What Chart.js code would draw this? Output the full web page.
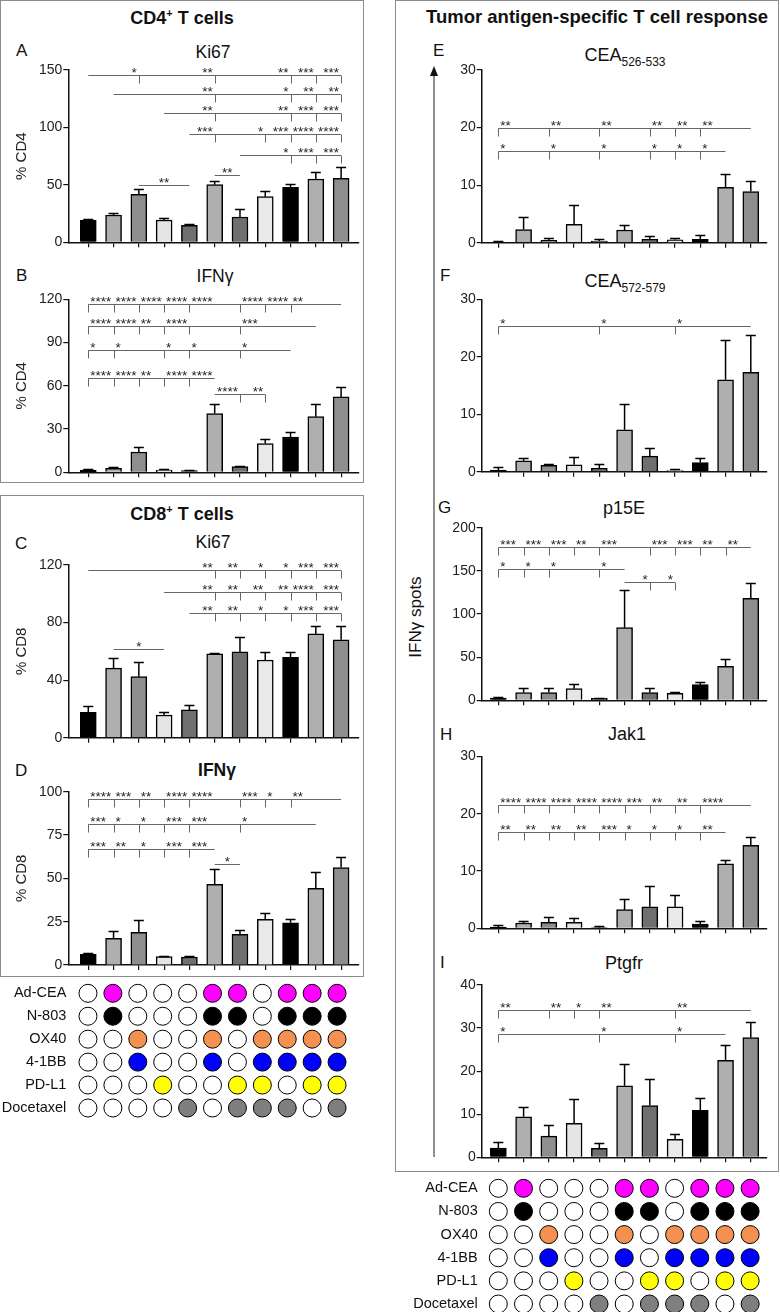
<!DOCTYPE html>
<html>
<head>
<meta charset="utf-8">
<style>
  html, body { margin: 0; padding: 0; background: #fff; }
  body { width: 780px; height: 1312px; position: relative; overflow: hidden;
         font-family: "Liberation Sans", Arial, sans-serif; color: #111; }
  .box { position: absolute; border: 1px solid #8c8c8c; box-sizing: border-box; }
  .t { position: absolute; transform: translate(-50%, -50%); white-space: nowrap; line-height: 1; }
  .l { position: absolute; transform: translate(0, -50%); white-space: nowrap; line-height: 1; font-size: 17px; }
  .b { font-weight: bold; }
  .sub { font-size: 12px; position: relative; top: 5px; }
  .sup { font-size: 11px; position: relative; top: -7px; }
  canvas { position: absolute; }
</style>
</head>
<body>
  <div class="box" style="left:0;top:0;width:364px;height:483px"></div>
  <div class="box" style="left:0;top:495px;width:364px;height:482px"></div>
  <div class="box" style="left:395px;top:0;width:384px;height:1172px"></div>

  <div class="t b" style="left:182px;top:18px;font-size:18px">CD4<span class="sup">+</span> T cells</div>
  <div class="l" style="left:16px;top:50px">A</div>
  <div class="t" style="left:213px;top:53px;font-size:17.5px">Ki67</div>
  <div class="l" style="left:16px;top:275px">B</div>
  <div class="t" style="left:215px;top:277px;font-size:17.5px">IFNγ</div>

  <div class="t b" style="left:182px;top:514px;font-size:18px">CD8<span class="sup">+</span> T cells</div>
  <div class="l" style="left:15px;top:543px">C</div>
  <div class="t" style="left:213px;top:543px;font-size:17.5px">Ki67</div>
  <div class="l" style="left:15px;top:770px">D</div>
  <div class="t b" style="left:217px;top:771px;font-size:17.5px">IFNγ</div>

  <div class="t b" style="left:597px;top:17px;font-size:18.5px">Tumor antigen-specific T cell response</div>
  <div class="l" style="left:433px;top:50px">E</div>
  <div class="t" style="left:625px;top:55px;font-size:18px">CEA<span class="sub">526-533</span></div>
  <div class="l" style="left:440px;top:275px">F</div>
  <div class="t" style="left:625px;top:281px;font-size:18px">CEA<span class="sub">572-579</span></div>
  <div class="l" style="left:438px;top:507px">G</div>
  <div class="t" style="left:624px;top:508px;font-size:18px">p15E</div>
  <div class="l" style="left:440px;top:734px">H</div>
  <div class="t" style="left:627px;top:734px;font-size:18px">Jak1</div>
  <div class="l" style="left:440px;top:962px">I</div>
  <div class="t" style="left:624px;top:963px;font-size:18px">Ptgfr</div>
  <div class="t" style="left:415px;top:617px;font-size:17px;transform:translate(-50%,-50%) rotate(-90deg)">IFNγ spots</div>
  <svg style="position:absolute;left:428px;top:64px" width="12" height="1096">
    <line x1="6" y1="8" x2="6" y2="1093" stroke="#444" stroke-width="1.2"/>
    <polygon points="6,2 2,12 10,12" fill="#111"/>
  </svg>

  <script src="https://cdn.jsdelivr.net/npm/chart.js@4.4.1/dist/chart.umd.min.js"></script>
  <script>
    // treatment groups (columns) as shown in the dot matrix
    const treatments = ['Ad-CEA', 'N-803', 'OX40', '4-1BB', 'PD-L1', 'Docetaxel'];
    const adCea     = [0, 1, 0, 0, 0, 1, 1, 0, 1, 1, 1];
    const n803      = [0, 1, 0, 0, 0, 1, 1, 0, 1, 1, 1];
    const ox40      = [0, 0, 1, 0, 0, 1, 0, 1, 1, 1, 1];
    const bb41      = [0, 0, 1, 0, 0, 1, 0, 1, 1, 1, 1];
    const pdl1      = [0, 0, 0, 1, 0, 0, 1, 1, 0, 1, 1];
    const docetaxel = [0, 0, 0, 0, 1, 0, 1, 1, 1, 0, 1];
    const dotColors = ['#ff00ff', '#000000', '#f59150', '#0000ff', '#ffff00', '#7f7f7f'];
    const barColors = ['#000000', '#afafaf', '#8e8e8e', '#e5e5e5', '#6f6f6f', '#afafaf',
                       '#6f6f6f', '#e9e9e9', '#000000', '#afafaf', '#8e8e8e'];

    // A: CD4 Ki67 (% CD4), mean and SEM
    const cd4Ki67    = [19.1, 23.8, 41.8, 19.4, 14.8, 50.2, 22.0, 39.7, 47.9, 55.1, 55.7];
    const cd4Ki67Sem = [1.5, 1.4, 4.3, 1.8, 0.9, 3.2, 6.7, 5.3, 2.6, 6.1, 10.2];
    const cd4Ki67Sig = [
      { y: 145.6, ref: 0, at: [2, 5, 8, 9, 10], stars: ['*', '**', '**', '***', '***'] },
      { y: 129.1, ref: 1, at: [5, 8, 9, 10], stars: ['**', '*', '**', '**'] },
      { y: 112.3, ref: 3, at: [5, 8, 9, 10], stars: ['**', '**', '***', '***'] },
      { y: 94.0, ref: 4, at: [5, 7, 8, 9, 10], stars: ['***', '*', '***', '****', '****'] },
      { y: 76.0, ref: 6, at: [8, 9, 10], stars: ['*', '***', '***'] }
    ];
    const cd4Ki67Pairs = [{ y: 49.9, from: 2, to: 4, stars: '**' }, { y: 58.6, from: 5, to: 6, stars: '**' }];

    // B: CD4 IFNg
    const cd4Ifng    = [1.6, 2.8, 14.1, 1.6, 1.2, 40.7, 3.9, 19.9, 24.5, 38.6, 52.3];
    const cd4IfngSem = [0.7, 0.7, 3.2, 0.7, 0.6, 6.5, 0.7, 3.2, 3.7, 8.6, 6.9];
    const cd4IfngSig = [
      { y: 116.8, ref: 10, at: [0, 1, 2, 3, 4, 6, 7, 8], stars: ['****', '****', '****', '****', '****', '****', '****', '**'] },
      { y: 101.7, ref: 9, at: [0, 1, 2, 3, 4, 6], stars: ['****', '****', '**', '****', '', '***'] },
      { y: 84.9, ref: 8, at: [0, 1, 3, 4, 6], stars: ['*', '*', '*', '*', '*'] },
      { y: 65.2, ref: 5, at: [0, 1, 2, 3, 4], stars: ['****', '****', '**', '****', '****'] },
      { y: 54.1, ref: 5, at: [6, 7], stars: ['****', '**'] }
    ];

    // C: CD8 Ki67
    const cd8Ki67    = [17.7, 48.3, 42.4, 15.8, 19.3, 58.2, 59.6, 54.0, 55.9, 72.1, 68.0];
    const cd8Ki67Sem = [4.3, 6.9, 10.5, 2.3, 3.2, 0.7, 10.7, 5.8, 3.5, 5.8, 9.7];
    const cd8Ki67Sig = [
      { y: 116.5, ref: 0, at: [5, 6, 7, 8, 9, 10], stars: ['**', '**', '*', '*', '***', '***'] },
      { y: 101.0, ref: 3, at: [5, 6, 7, 8, 9, 10], stars: ['**', '**', '**', '**', '****', '***'] },
      { y: 86.4, ref: 4, at: [5, 6, 7, 8, 9, 10], stars: ['**', '**', '*', '*', '***', '***'] }
    ];
    const cd8Ki67Pairs = [{ y: 61.3, from: 1, to: 3, stars: '*' }];

    // D: CD8 IFNg
    const cd8Ifng    = [6.2, 15.4, 18.8, 4.8, 4.6, 46.5, 17.7, 26.3, 24.4, 44.2, 56.2];
    const cd8IfngSem = [0.5, 4.4, 7.2, 0.6, 0.8, 8.9, 2.5, 3.5, 2.1, 9.5, 6.3];
    const cd8IfngSig = [
      { y: 95.6, ref: 10, at: [0, 1, 2, 3, 4, 6, 7, 8], stars: ['****', '***', '**', '****', '****', '***', '*', '**'] },
      { y: 81.2, ref: 9, at: [0, 1, 2, 3, 4, 6], stars: ['***', '*', '*', '***', '***', '*'] },
      { y: 66.7, ref: 5, at: [0, 1, 2, 3, 4], stars: ['***', '**', '*', '***', '***'] }
    ];
    const cd8IfngPairs = [{ y: 58.3, from: 5, to: 6, stars: '*' }];

    // E-I: IFNg spots per peptide
    const cea526    = [0.1, 2.3, 0.4, 3.2, 0.3, 2.2, 0.6, 0.5, 0.6, 9.6, 8.9];
    const cea526Sem = [0.25, 2.2, 0.35, 3.3, 0.4, 0.8, 0.6, 0.4, 0.7, 2.4, 1.8];
    const cea526Sig = [
      { y: 20.0, ref: 10, at: [0, 2, 4, 6, 7, 8], stars: ['**', '**', '**', '**', '**', '**'] },
      { y: 16.0, ref: 9, at: [0, 2, 4, 6, 7, 8], stars: ['*', '*', '*', '*', '*', '*'] }
    ];
    const cea572    = [0.3, 1.9, 1.1, 1.2, 0.6, 7.3, 2.7, 0.2, 1.6, 16.0, 17.3];
    const cea572Sem = [0.6, 0.4, 0.3, 1.4, 0.7, 4.5, 1.5, 0.2, 0.8, 6.9, 6.5];
    const cea572Sig = [{ y: 25.4, ref: 10, at: [0, 4, 7], stars: ['*', '*', '*'] }];

    const p15e    = [2.7, 8.9, 8.9, 13.5, 2.3, 84.2, 8.9, 8.1, 18.1, 39.4, 118.1];
    const p15eSem = [1.5, 5.0, 5.0, 5.8, 0.8, 43.2, 5.0, 1.9, 3.5, 8.5, 18.2];
    const p15eSig = [
      { y: 178, ref: 10, at: [0, 1, 2, 3, 4, 6, 7, 8, 9], stars: ['***', '***', '***', '**', '***', '***', '***', '**', '**'] },
      { y: 152, ref: 5, at: [0, 1, 2, 4], stars: ['*', '*', '*', '*'] },
      { y: 137.5, ref: 5, at: [6, 7], stars: ['*', '*'] }
    ];

    const jak1    = [0.23, 0.93, 1.04, 1.04, 0.12, 3.25, 3.77, 3.77, 0.75, 11.26, 14.5];
    const jak1Sem = [0.4, 0.4, 0.9, 0.8, 0.3, 1.95, 3.6, 2.1, 0.55, 0.6, 1.4];
    const jak1Sig = [
      { y: 21.5, ref: 10, at: [0, 1, 2, 3, 4, 5, 6, 7, 8], stars: ['****', '****', '****', '****', '****', '***', '**', '**', '****'] },
      { y: 16.8, ref: 9, at: [0, 1, 2, 3, 4, 5, 6, 7, 8], stars: ['**', '**', '**', '**', '***', '*', '*', '*', '**'] }
    ];

    const ptgfr    = [2.16, 9.4, 4.9, 7.9, 2.1, 16.6, 12.0, 4.2, 10.9, 22.5, 27.8];
    const ptgfrSem = [1.4, 2.2, 2.6, 5.6, 1.3, 5.0, 6.1, 1.2, 2.9, 3.5, 3.7];
    const ptgfrSig = [
      { y: 34.2, ref: 10, at: [0, 2, 3, 4, 7], stars: ['**', '**', '*', '**', '**'] },
      { y: 28.7, ref: 9, at: [0, 4, 7], stars: ['*', '*', '*'] }
    ];

    Chart.defaults.font.family = '"Liberation Sans", Arial, sans-serif';
    Chart.defaults.color = '#222';

    // error bars (upper only) and significance brackets, drawn through the scales
    const sigmarks = {
      id: 'sigmarks',
      afterDatasetsDraw(chart, args, opts) {
        const ctx = chart.ctx;
        const px = i => chart.scales.x.getPixelForValue(i);
        const py = v => Math.round(chart.scales.y.getPixelForValue(v)) + 0.5;
        ctx.save();
        if (opts.sem) {
          ctx.strokeStyle = '#000';
          ctx.lineWidth = 1.5;
          chart.data.datasets[0].data.forEach((p, i) => {
            const x = px(p.x), y0 = chart.scales.y.getPixelForValue(p.y), y1 = py(p.y + opts.sem[i]);
            ctx.beginPath();
            ctx.moveTo(x, y0); ctx.lineTo(x, y1);
            ctx.moveTo(x - 5, y1); ctx.lineTo(x + 5, y1);
            ctx.stroke();
          });
        }
        ctx.font = '13.5px "Liberation Sans", Arial, sans-serif';
        ctx.fillStyle = '#222';
        ctx.strokeStyle = '#666';
        ctx.lineWidth = 1;
        (opts.rows || []).forEach(r => {
          const all = r.at.concat([r.ref]);
          const y = py(r.y);
          ctx.beginPath();
          ctx.moveTo(px(Math.min(...all)), y);
          ctx.lineTo(px(Math.max(...all)), y);
          r.at.forEach(i => { ctx.moveTo(Math.round(px(i)) + 0.5, y); ctx.lineTo(Math.round(px(i)) + 0.5, y + 8); });
          ctx.stroke();
          r.at.forEach((i, k) => {
            const toRight = r.ref > i;
            ctx.textAlign = toRight ? 'left' : 'right';
            ctx.fillText(r.stars[k], px(i) + (toRight ? 2 : -2), y + 1.5);
          });
        });
        (opts.pairs || []).forEach(p => {
          const y = py(p.y);
          ctx.beginPath();
          ctx.moveTo(px(p.from), y); ctx.lineTo(px(p.to), y);
          ctx.stroke();
          ctx.textAlign = 'center';
          ctx.fillText(p.stars, (px(p.from) + px(p.to)) / 2, y + 1.5);
        });
        ctx.restore();
      }
    };

    const leftCol  = { left: 0, width: 364, plotLeft: 68.3, plotRight: 358.3, xMin: -0.79, xMax: 10.68, padL: 8.7, labelPad: 2 };
    const rightCol = { left: 440, width: 336, plotLeft: 481.7, plotRight: 766.7, xMin: -0.66, xMax: 10.63, padL: 0, labelPad: 4 };
    const rightDots = Object.assign({}, rightCol, { left: 396, width: 380 });

    function addCanvas(left, top, w, h) {
      const cv = document.createElement('canvas');
      cv.width = w; cv.height = h;
      cv.style.left = left + 'px'; cv.style.top = top + 'px';
      document.body.appendChild(cv);
      return cv;
    }

    function barPanel(col, top, bottom, vals, sem, yMax, yStep, rows, pairs, yTitle) {
      const cTop = Math.floor(top) - 14;
      const cH = Math.ceil(bottom) - cTop + 14;
      const cv = addCanvas(col.left, cTop, col.width, cH);
      const axisLine = { color: '#111', width: 1.5 };
      const tickGrid = { drawOnChartArea: false, tickLength: 5, color: '#111', lineWidth: 1.2, offset: false };
      new Chart(cv, {
        type: 'bar',
        data: {
          datasets: [{
            data: vals.map((v, i) => ({ x: i, y: v })),
            backgroundColor: barColors,
            borderColor: '#000',
            borderWidth: 1.5,
            borderSkipped: 'start',
            barThickness: 16
          }]
        },
        plugins: [sigmarks],
        options: {
          responsive: false,
          animation: false,
          devicePixelRatio: 1,
          events: [],
          layout: {
            padding: {
              left: col.padL,
              right: col.left + col.width - col.plotRight,
              top: top - cTop,
              bottom: cH - 10 - (bottom - cTop)
            }
          },
          plugins: {
            legend: { display: false },
            tooltip: { enabled: false },
            sigmarks: { sem: sem, rows: rows, pairs: pairs }
          },
          scales: {
            x: {
              type: 'linear', min: col.xMin, max: col.xMax, offset: false,
              afterBuildTicks: s => { s.ticks = vals.map((v, i) => ({ value: i })); },
              afterFit: s => { s.height = 10; },
              ticks: { display: false },
              grid: tickGrid,
              border: axisLine
            },
            y: {
              min: 0, max: yMax,
              afterFit: s => { s.width = col.plotLeft - col.left - col.padL; },
              ticks: { stepSize: yStep, font: { size: 14 }, color: '#222', padding: 1 },
              grid: tickGrid,
              border: axisLine,
              title: { display: !!yTitle, text: yTitle || '', font: { size: 15 }, color: '#222' }
            }
          }
        }
      });
    }

    function dotPanel(col, firstRow, lastRow) {
      const rows = [adCea, n803, ox40, bb41, pdl1, docetaxel];
      const step = (lastRow - firstRow) / (treatments.length - 1);
      const top = firstRow - step / 2, bottom = lastRow + step / 2;
      const cTop = Math.floor(top) - 14;
      const cH = Math.ceil(bottom) - cTop + 14;
      const cv = addCanvas(col.left, cTop, col.width, cH);
      new Chart(cv, {
        type: 'scatter',
        data: {
          datasets: rows.map((row, r) => ({
            data: row.map((on, i) => ({ x: i, y: r })),
            pointRadius: 9,
            pointHoverRadius: 9,
            pointBackgroundColor: row.map(on => on ? dotColors[r] : '#ffffff'),
            pointBorderColor: '#000',
            pointBorderWidth: 1
          }))
        },
        options: {
          responsive: false,
          animation: false,
          devicePixelRatio: 1,
          events: [],
          layout: {
            padding: { left: 0, right: col.left + col.width - col.plotRight, top: top - cTop, bottom: cH - (bottom - cTop) }
          },
          plugins: { legend: { display: false }, tooltip: { enabled: false } },
          scales: {
            x: { type: 'linear', min: col.xMin, max: col.xMax, display: false },
            y: {
              type: 'linear', min: -0.5, max: treatments.length - 0.5, reverse: true, offset: false,
              afterBuildTicks: s => { s.ticks = treatments.map((t, i) => ({ value: i })); },
              afterFit: s => { s.width = col.plotLeft - col.left; },
              ticks: { callback: v => treatments[v], font: { size: 14.5 }, color: '#111', padding: col.labelPad },
              grid: { display: false, drawTicks: false },
              border: { display: false }
            }
          }
        }
      });
    }

    barPanel(leftCol, 70, 242.3, cd4Ki67, cd4Ki67Sem, 150, 50, cd4Ki67Sig, cd4Ki67Pairs, '% CD4');
    barPanel(leftCol, 299.3, 472.3, cd4Ifng, cd4IfngSem, 120, 30, cd4IfngSig, [], '% CD4');
    barPanel(leftCol, 565, 737.7, cd8Ki67, cd8Ki67Sem, 120, 40, cd8Ki67Sig, cd8Ki67Pairs, '% CD8');
    barPanel(leftCol, 791.7, 965, cd8Ifng, cd8IfngSem, 100, 25, cd8IfngSig, cd8IfngPairs, '% CD8');
    dotPanel(leftCol, 993.3, 1108);

    barPanel(rightCol, 70, 242.7, cea526, cea526Sem, 30, 10, cea526Sig, []);
    barPanel(rightCol, 299.3, 471.7, cea572, cea572Sem, 30, 10, cea572Sig, []);
    barPanel(rightCol, 527.7, 700.3, p15e, p15eSem, 200, 50, p15eSig, []);
    barPanel(rightCol, 756.5, 928.3, jak1, jak1Sem, 30, 10, jak1Sig, []);
    barPanel(rightCol, 985, 1157.3, ptgfr, ptgfrSem, 40, 10, ptgfrSig, []);
    dotPanel(rightDots, 1188.3, 1304);
  </script>
</body>
</html>
